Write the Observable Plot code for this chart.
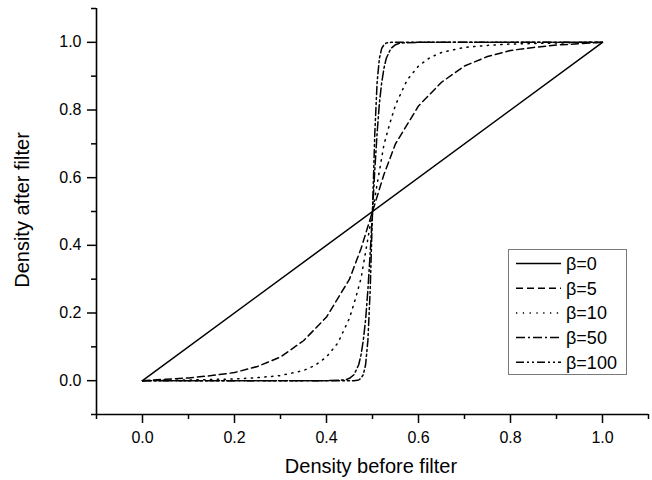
<!DOCTYPE html>
<html>
<head>
<meta charset="utf-8">
<script src="https://cdn.jsdelivr.net/npm/d3@7"></script>
<script src="https://cdn.jsdelivr.net/npm/@observablehq/plot@0.6"></script>
<style>
  html, body { margin: 0; padding: 0; background: #fff; }
  svg { display: block; }
</style>
</head>
<body>
<div id="chart"></div>
<script>
// ---- data ----
const seriesNames = ["β=0", "β=5", "β=10", "β=50", "β=100"];

const x0 = [0, 1];
const y0 = [0, 1];

const x5 = [0, 0.05, 0.1, 0.15, 0.2, 0.25, 0.3, 0.35, 0.4, 0.45, 0.475, 0.5, 0.525, 0.55, 0.6, 0.65, 0.7, 0.75, 0.8, 0.85, 0.9, 0.95, 1];
const y5 = [0, 0.004, 0.008, 0.015, 0.024, 0.042, 0.070, 0.118, 0.188, 0.300, 0.390, 0.5, 0.610, 0.700, 0.812, 0.882, 0.930, 0.958, 0.976, 0.985, 0.992, 0.996, 1];

const x10 = [0, 0.1, 0.2, 0.25, 0.3, 0.35, 0.375, 0.4, 0.425, 0.45, 0.4625, 0.475, 0.4875, 0.5, 0.5125, 0.525, 0.5375, 0.55, 0.575, 0.6, 0.625, 0.65, 0.7, 0.75, 0.8, 0.9, 1];
const y10 = [0, 0.002, 0.005, 0.009, 0.015, 0.030, 0.045, 0.070, 0.112, 0.185, 0.240, 0.302, 0.400, 0.5, 0.600, 0.698, 0.760, 0.815, 0.888, 0.930, 0.955, 0.970, 0.985, 0.991, 0.995, 0.998, 1];

const x50 = [0, 0.4, 0.44, 0.45, 0.46, 0.47, 0.475, 0.48, 0.485, 0.49, 0.495, 0.5, 0.505, 0.51, 0.515, 0.52, 0.525, 0.53, 0.54, 0.55, 0.56, 0.6, 1];
const y50 = [0, 0, 0.002, 0.007, 0.018, 0.047, 0.076, 0.119, 0.180, 0.269, 0.377, 0.5, 0.623, 0.731, 0.820, 0.881, 0.924, 0.953, 0.982, 0.993, 0.998, 1, 1];

const x100 = [0, 0.46, 0.47, 0.475, 0.48, 0.485, 0.49, 0.495, 0.5, 0.505, 0.51, 0.515, 0.52, 0.525, 0.53, 0.54, 1];
const y100 = [0, 0, 0.002, 0.007, 0.018, 0.047, 0.119, 0.269, 0.5, 0.731, 0.881, 0.953, 0.982, 0.993, 0.998, 1, 1];

const majorTicks = [0, 0.2, 0.4, 0.6, 0.8, 1.0];
const minorTicks = [-0.1, 0.1, 0.3, 0.5, 0.7, 0.9, 1.1];
const xLabel = "Density before filter";
const yLabel = "Density after filter";

// ---- build ----
const dashes = ["none", "7,4", "1.3,5.5", "9,3,2,3", "8,3,2,3,2,3"];
const xsAll = [x0, x5, x10, x50, x100];
const ysAll = [y0, y5, y10, y50, y100];
const rows = xsAll.map((xs, i) => xs.map((x, j) => ({x, y: ysAll[i][j], s: seriesNames[i]})));

const W = 652, H = 480;
const ML = 96, MR = 4, MT = 8, MB = 66;

const svg = Plot.plot({
  width: W, height: H,
  marginLeft: ML, marginRight: MR, marginTop: MT, marginBottom: MB,
  x: {domain: [-0.1, 1.1], label: null},
  y: {domain: [-0.1, 1.1], label: null},
  style: {fontFamily: "'Liberation Sans', Arial, sans-serif", fontSize: "16px", color: "#000", background: "#fff"},
  marks: [
    Plot.axisX(majorTicks, {tickSize: 9, tickPadding: 8, tickFormat: d => d.toFixed(1), label: null, strokeWidth: 1.5, fontSize: 16}),
    Plot.axisX(minorTicks, {tickSize: 5, tickFormat: () => "", label: null, strokeWidth: 1.5}),
    Plot.axisY(majorTicks, {tickSize: 9, tickPadding: 6, tickFormat: d => d.toFixed(1), label: null, strokeWidth: 1.5, fontSize: 16}),
    Plot.axisY(minorTicks, {tickSize: 5, tickFormat: () => "", label: null, strokeWidth: 1.5}),
    Plot.ruleY([-0.1], {stroke: "#000", strokeWidth: 1.6}),
    Plot.ruleX([-0.1], {stroke: "#000", strokeWidth: 1.6}),
    ...rows.map((r, i) => Plot.line(r, {x: "x", y: "y", stroke: "#000", strokeWidth: 1.5, strokeDasharray: dashes[i] === "none" ? null : dashes[i]}))
  ]
});

const s = d3.select(svg);
// axis titles
s.append("text")
  .attr("x", 371).attr("y", 473)
  .attr("text-anchor", "middle")
  .attr("font-size", 20)
  .attr("fill", "#000")
  .text(xLabel);
s.append("text")
  .attr("transform", "translate(29,210) rotate(-90)")
  .attr("text-anchor", "middle")
  .attr("font-size", 20)
  .attr("fill", "#000")
  .text(yLabel);

// legend
const lg = s.append("g");
lg.append("rect")
  .attr("x", 508.5).attr("y", 249.5).attr("width", 118).attr("height", 125)
  .attr("fill", "#fff").attr("stroke", "#7a7a7a").attr("stroke-width", 1);
seriesNames.forEach((name, i) => {
  const yy = 263.5 + i * 24.7;
  lg.append("line")
    .attr("x1", 516).attr("x2", 561).attr("y1", yy).attr("y2", yy)
    .attr("stroke", "#000").attr("stroke-width", 1.5)
    .attr("stroke-dasharray", dashes[i] === "none" ? null : dashes[i]);
  lg.append("text")
    .attr("x", 566).attr("y", yy)
    .attr("dy", "0.36em")
    .attr("text-anchor", "start")
    .attr("font-size", 18)
    .attr("fill", "#000")
    .text(name);
});

document.getElementById("chart").appendChild(svg);
</script>
</body>
</html>
